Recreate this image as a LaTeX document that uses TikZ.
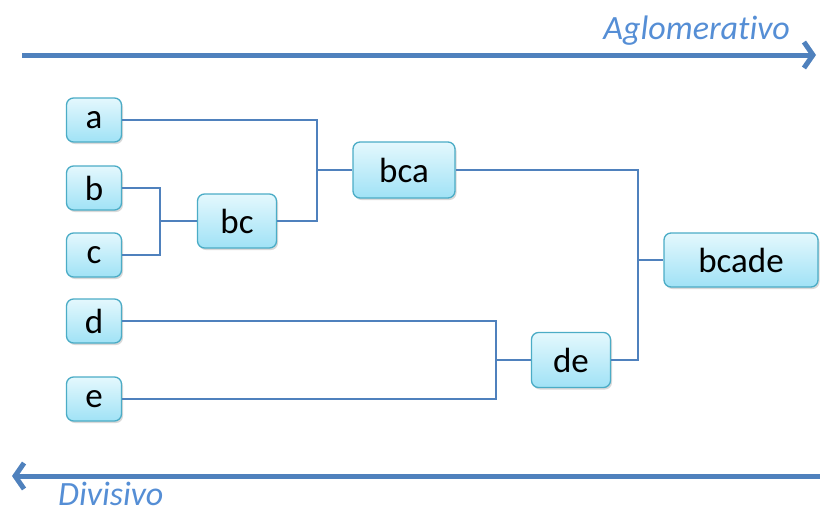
\documentclass[tikz,border=0pt]{standalone}
\usepackage{fontspec}
\setmainfont[Ligatures={NoCommon}]{Carlito}
\usetikzlibrary{arrows.meta,shadows}
\definecolor{conn}{RGB}{79,129,189}
\definecolor{boxborder}{RGB}{75,172,198}
\definecolor{boxtop}{RGB}{228,248,253}
\definecolor{boxbot}{RGB}{160,226,246}
\definecolor{lbl}{RGB}{85,142,213}
\tikzset{
  box/.style={draw=boxborder, line width=1.3pt, rounded corners=7pt,
    top color=boxtop, bottom color=boxbot, inner sep=0pt,
    font=\fontsize{35}{36}\selectfont,
    drop shadow={shadow xshift=1.5pt, shadow yshift=-2pt, opacity=0.3, fill=gray}},
  link/.style={draw=conn, line width=1.6pt},
  bigarrow/.style={draw=conn, line width=5pt,
    drop shadow={shadow xshift=0pt, shadow yshift=-2pt, opacity=0.25, fill=gray}},
  lab/.style={text=lbl, inner sep=0pt, font=\fontsize{34}{35}\selectfont\itshape}
}
\begin{document}
\begin{tikzpicture}[x=1pt,y=-1pt]
\useasboundingbox (0,0) rectangle (820,515);
% arrows
\coordinate (t1) at (22,55);
\coordinate (t2) at (816,55);
\coordinate (d1) at (820,476);
\coordinate (d2) at (12,476);
\draw[bigarrow, -{Straight Barb[length=9pt,width=26pt]}] (t1) -- (t2);
\draw[bigarrow, -{Straight Barb[length=9pt,width=26pt]}] (d1) -- (d2);
\node[lab, anchor=base east] (agl) at (790,39) {Aglomerativo};
\node[lab, anchor=base west] (div) at (58,505) {Divisivo};
% nodes
\node[box, minimum width=55pt, minimum height=44pt] (a) at (94,120) {a};
\node[box, minimum width=55pt, minimum height=44pt] (b) at (94,188) {b};
\node[box, minimum width=55pt, minimum height=44pt] (c) at (94,255) {c};
\node[box, minimum width=55pt, minimum height=44pt] (d) at (94,321) {d};
\node[box, minimum width=55pt, minimum height=44pt] (e) at (94,399) {e};
\node[box, minimum width=79pt, minimum height=54pt] (bc) at (237,221) {bc};
\node[box, minimum width=102pt, minimum height=56pt] (bca) at (404,170) {bca};
\node[box, minimum width=79pt, minimum height=55pt] (de) at (571,360) {de};
\node[box, minimum width=154pt, minimum height=54pt] (bcade) at (741,260) {bcade};
% junctions
\coordinate (jbc) at (160,221);
\coordinate (jbca) at (317,170);
\coordinate (jde) at (496,360);
\coordinate (jall) at (638,260);
\draw[link] (b.east) -| (jbc) |- (c.east);
\draw[link] (jbc) -- (bc.west);
\draw[link] (a.east) -| (jbca) |- (bc.east);
\draw[link] (jbca) -- (bca.west);
\draw[link] (d.east) -| (jde) |- (e.east);
\draw[link] (jde) -- (de.west);
\draw[link] (bca.east) -| (jall) |- (de.east);
\draw[link] (jall) -- (bcade.west);
\end{tikzpicture}
\end{document}
